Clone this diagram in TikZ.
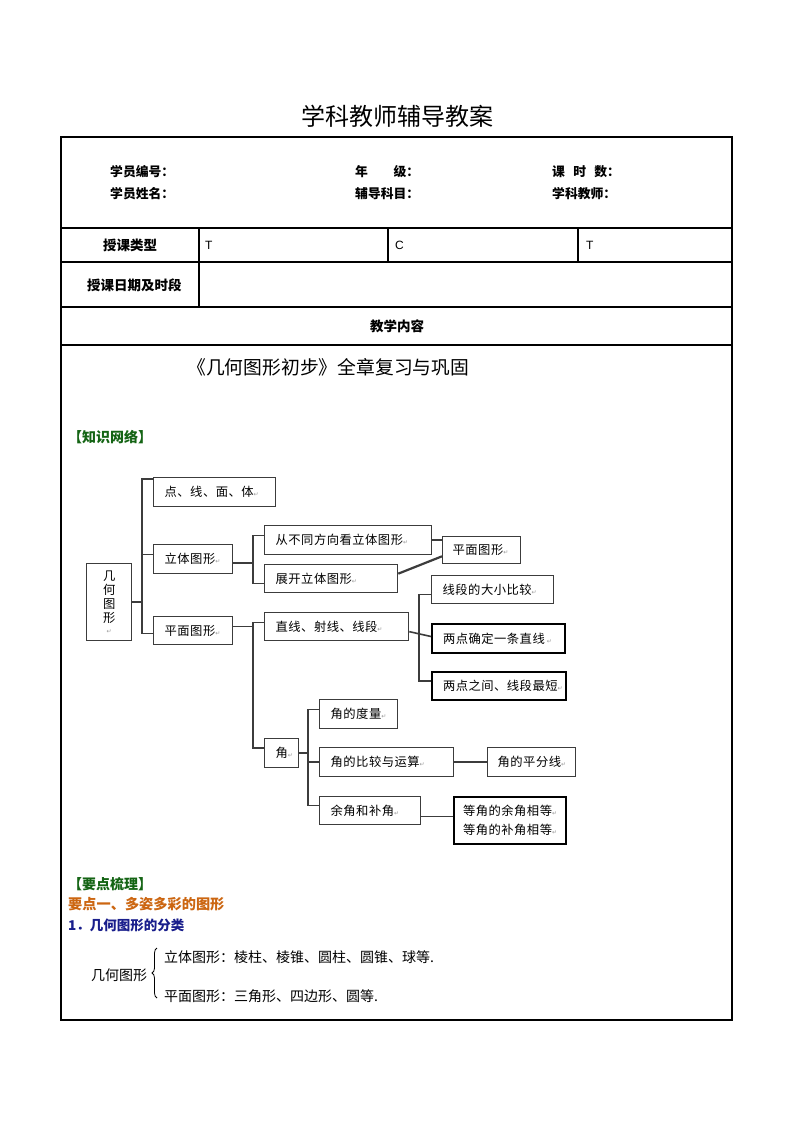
\documentclass[tikz,border=0pt]{standalone}
\usepackage{fontspec}
\setmainfont{Noto Sans CJK SC}
\newfontfamily\latf{Liberation Sans}
\newfontfamily\symf{DejaVu Sans}
\usetikzlibrary{decorations.pathreplacing}
\definecolor{kgreen}{RGB}{20,100,20}
\definecolor{korange}{RGB}{204,102,17}
\definecolor{kblue}{RGB}{25,30,140}
\definecolor{boxc}{RGB}{60,60,60}
\newcommand\rt{{\symf\fontsize{6}{6}\selectfont\color{black!40}↵}}
\newcommand\dfont{\fontsize{12.3}{14}\selectfont\addfontfeature{LetterSpace=4}}
\def\bxpad{11pt}
\begin{document}
\begin{tikzpicture}[x=1pt,y=-1pt,
  tbl/.style={line width=1.2pt, black},
  lbl/.style={inner sep=0pt, anchor=west, font=\fontsize{13.5}{15}\selectfont\bfseries},
  rlbl/.style={inner sep=0pt, anchor=west, font=\fontsize{12.8}{15}\selectfont\bfseries},
  clbl/.style={inner sep=0pt, font=\fontsize{13.5}{15}\selectfont\bfseries},
  lat/.style={inner sep=0pt, anchor=west, font=\latf\fontsize{12}{14}\selectfont},
  bxpad/.code={\def\bxpad{#1}},
  bx/.style={draw=boxc, line width=1.3pt, anchor=north west, inner xsep=0pt, inner ysep=0pt,
    minimum height=28pt, text width=#1, align=left, font=\dfont,
    execute at begin node=\hspace*{\bxpad}},
  thk/.style={draw=black, line width=2pt},
  conn/.style={draw=boxc, line width=1.6pt},
  head/.style={inner sep=0pt, anchor=west, font=\fontsize{13.5}{15}\selectfont\bfseries},
  body/.style={inner sep=0pt, anchor=west, font=\fontsize{14}{16}\selectfont}]
\useasboundingbox (0,0) rectangle (794,1123);
\fill[white] (0,0) rectangle (794,1123);

% ---------- title and table ----------
\node[inner sep=0pt, font=\fontsize{24}{27}\selectfont] (title) at (397,116) {学科教师辅导教案};
\draw[tbl] (61,137) rectangle (732,1020);
\foreach \yy in {228,262,307,345} \draw[tbl] (61,\yy) -- (732,\yy);
\draw[tbl] (199,228) -- (199,307);
\draw[tbl] (388,228) -- (388,262);
\draw[tbl] (578,228) -- (578,262);

\node[rlbl] (xybh) at (110,172) {学员编号：};
\node[rlbl] (xyxm) at (110,194) {学员姓名：};
\node[rlbl] (nj) at (355,172) {年\hspace{2em}级：};
\node[rlbl] (fdkm) at (355,194) {辅导科目：};
\node[rlbl] (ksh) at (552,172) {课\hspace{0.65em}时\hspace{0.65em}数：};
\node[rlbl] (xkjs) at (552,194) {学科教师：};
\node[clbl] (sklx) at (130,245) {授课类型};
\node[lat] (t1) at (205,245) {T};
\node[lat] (c1t) at (395,245) {C};
\node[lat] (t2) at (586,245) {T};
\node[lbl] (skrq) at (87,285) {授课日期及时段};
\node[clbl] (jxnr) at (397,326) {教学内容};

\node[inner sep=0pt, anchor=west, font=\fontsize{18.8}{21}\selectfont] (chap) at (187,367) {《几何图形初步》全章复习与巩固};
\node[head, text=kgreen, font=\fontsize{14}{16}\selectfont\bfseries] (zswl) at (68,437) {【知识网络】};

% ---------- knowledge network ----------
\node[draw=boxc, line width=1.3pt, anchor=north west, inner sep=0pt, minimum height=77pt,
  text width=45pt, align=center, font=\fontsize{12.3}{13.8}\selectfont] (root) at (86,563)
  {几\\何\\图\\形\\[-3pt]\rt};
\node[bx=122pt, minimum height=29pt] (b1) at (153,477) {点、线、面、体\rt};
\node[bx=79pt, minimum height=29pt] (b2) at (153,544) {立体图形\rt};
\node[bx=79pt] (b3) at (153,616) {平面图形\rt};
\node[bx=167pt, minimum height=29pt] (c1) at (264,525) {从不同方向看立体图形\rt};
\node[bx=133pt] (c2) at (264,564) {展开立体图形\rt};
\node[bx=78pt, minimum height=27pt, bxpad=10pt] (p1) at (442,536) {平面图形\rt};
\node[bx=144pt] (d1) at (264,612) {直线、射线、线段\rt};
\node[bx=122pt] (e1) at (431,575) {线段的大小比较\rt};
\node[bx=133pt, thk, minimum height=29pt] (e2) at (431,623) {两点确定一条直线\,\rt};
\node[bx=134pt, thk] (e3) at (431,671) {两点之间、线段最短\rt};
\node[bx=34pt, minimum height=29pt] (j) at (264,738) {角\rt};
\node[bx=78pt, minimum height=29pt] (f1) at (319,699) {角的度量\rt};
\node[bx=134pt, minimum height=29pt] (f2) at (319,747) {角的比较与运算\rt};
\node[bx=101pt] (f3) at (319,796) {余角和补角\rt};
\node[bx=88pt, minimum height=29pt, bxpad=10pt] (g1) at (487,747) {角的平分线\rt};
\node[bx=112pt, thk, minimum height=47pt, bxpad=9pt,
  font=\fontsize{12.3}{19}\selectfont\addfontfeature{LetterSpace=4}] (g2) at (453,796)
  {等角的余角相等\rt\\\hspace*{9pt}等角的补角相等\rt};

% junction abscissae
\coordinate (tx) at (142,0);
\coordinate (sx) at (253,0);
\coordinate (ux) at (419,0);
\coordinate (vx) at (308,0);
% entry / exit points
\coordinate (b1in) at ([yshift=-2pt]b1.north west);
\coordinate (b2in) at ([yshift=4.5pt]b2.west);
\coordinate (b3in) at ([yshift=-3pt]b3.west);
\coordinate (b2out) at ([yshift=-4pt]b2.east);
\coordinate (c1in) at ([yshift=4.5pt]c1.west);
\coordinate (c2in) at ([yshift=-5pt]c2.west);
\coordinate (b3out) at ([yshift=4pt]b3.east);
\coordinate (d1in) at ([yshift=4pt]d1.west);
\coordinate (jin) at ([yshift=5pt]j.west);
\coordinate (e1in) at ([yshift=-5pt]e1.west);
\coordinate (e3in) at ([yshift=5pt]e3.west);
\coordinate (f1in) at ([yshift=4.5pt]f1.west);
\coordinate (f3in) at ([yshift=5pt]f3.west);
\coordinate (f3out) at ([yshift=-6pt]f3.east);
\coordinate (c2out) at ([yshift=5pt]c2.east);
\coordinate (p1in) at ([yshift=8pt]p1.south west);
\coordinate (d1out) at ([yshift=-5pt]d1.east);
\coordinate (e2in) at ([yshift=2pt]e2.west);

\draw[conn] (root.east) -- (root.east -| tx);
\draw[conn] (b1in) -- (b1in -| tx) -- (b3in -| tx) -- (b3in);
\draw[conn] (b2in) -- (b2in -| tx);
\draw[conn] (b2out) -- (b2out -| sx);
\draw[conn] (c1in) -- (c1in -| sx) -- (c2in -| sx) -- (c2in);
\draw[conn, line width=2.2pt] (c1.east) -- (c1.east -| p1.west);
\draw[conn, line width=2.2pt] (c2out) -- (p1in);
\draw[conn] (b3out) -- (b3out -| sx);
\draw[conn] (d1in) -- (d1in -| sx) -- (jin -| sx) -- (jin);
\draw[conn] (e1in) -- (e1in -| ux) -- (e3in -| ux) -- (e3in);
\draw[conn] (d1out) -- (e2in);
\draw[conn] (j.east) -- (j.east -| vx);
\draw[conn] (f1in) -- (f1in -| vx) -- (f3in -| vx) -- (f3in);
\draw[conn] (f2.west) -- (f2.west -| vx);
\draw[conn] (f2.east) -- (g1.west);
\draw[conn] (f3out) -- (f3out -| g2.west);

% ---------- key points ----------
\node[head, text=kgreen, font=\fontsize{14}{16}\selectfont\bfseries] (ydsl) at (68,884) {【要点梳理】};
\node[head, text=korange, font=\fontsize{14.2}{16}\selectfont\bfseries] (yd1) at (68,904) {要点一、多姿多彩的图形};
\node[head, text=kblue] (fl) at (68,925) {1．几何图形的分类};
\node[body] (jhtx) at (91,975) {几何图形};
\draw[line width=0.8pt, decorate, decoration={brace, amplitude=5pt}] (157,998) -- (157,948);
\node[body] (ltx) at (164,957) {立体图形：棱柱、棱锥、圆柱、圆锥、球等.};
\node[body] (pmtx) at (164,996) {平面图形：三角形、四边形、圆等.};
\end{tikzpicture}
\end{document}
